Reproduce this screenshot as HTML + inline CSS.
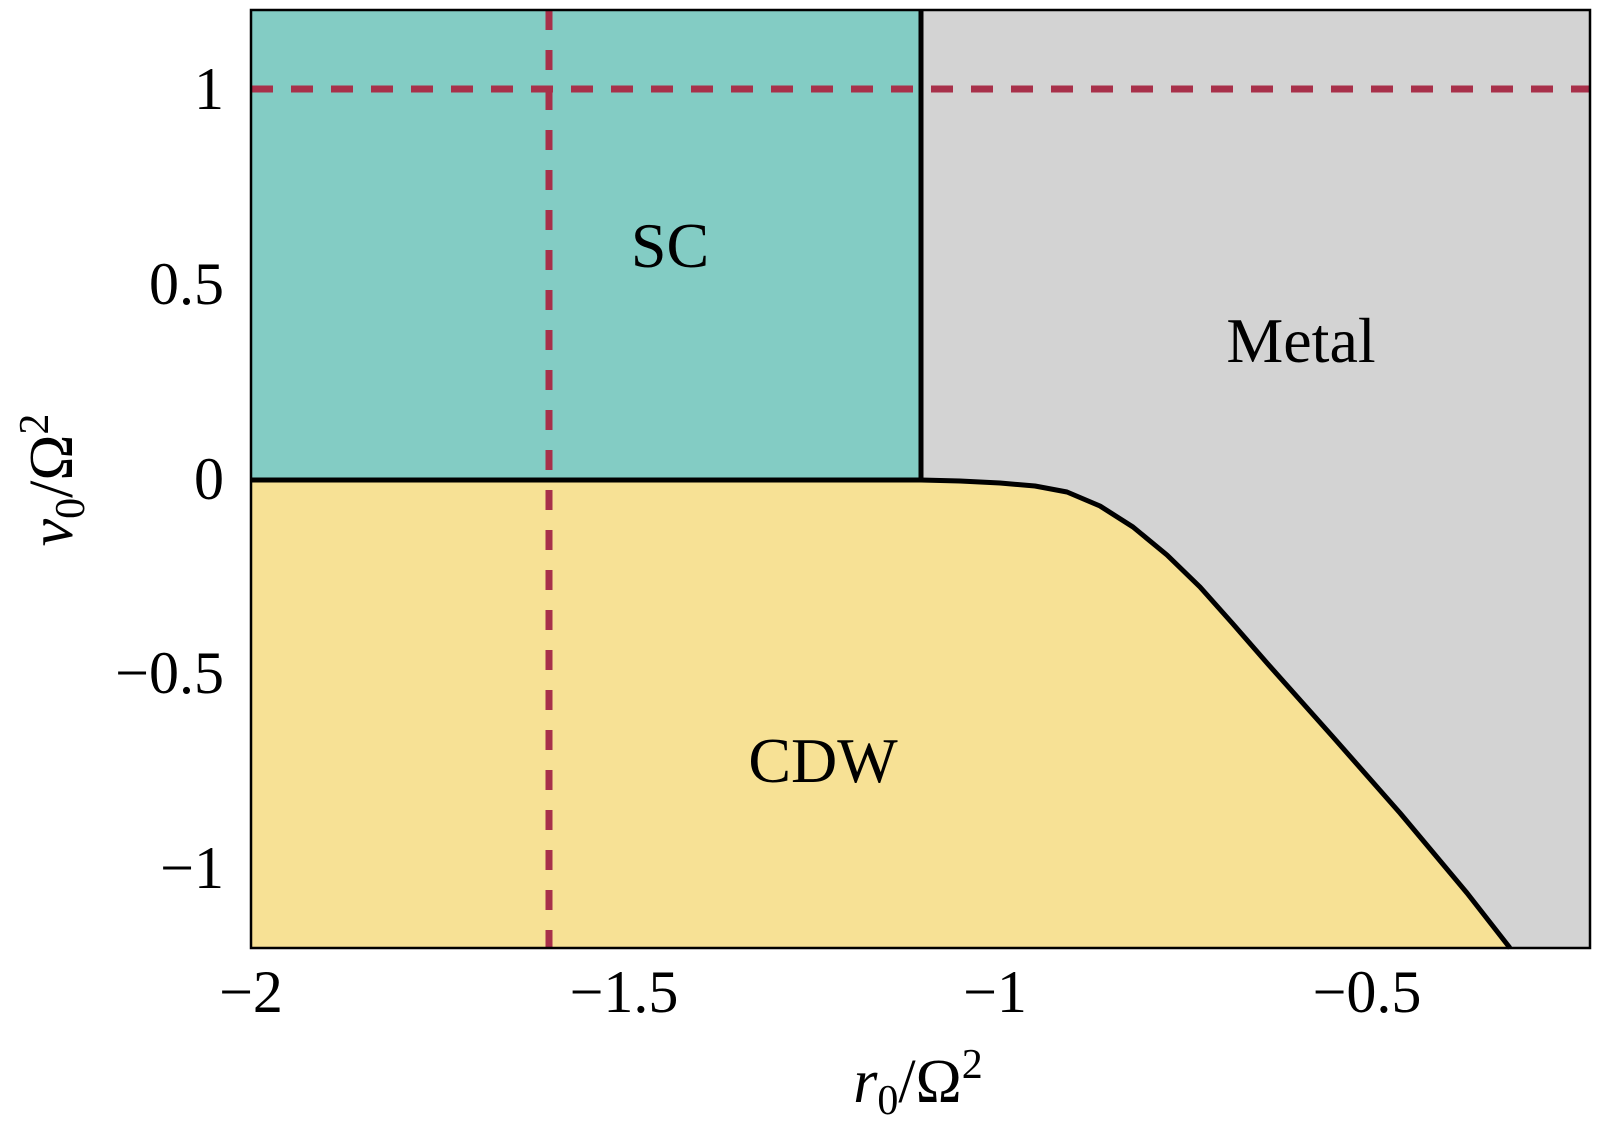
<!DOCTYPE html>
<html><head><style>
html,body{margin:0;padding:0;background:#fff;}
</style></head><body>
<svg width="1600" height="1128" viewBox="0 0 1600 1128" xmlns="http://www.w3.org/2000/svg" font-family="'Liberation Serif', serif">
<rect x="0" y="0" width="1600" height="1128" fill="#fff"/>
<rect x="251" y="10" width="1339" height="938" fill="#d3d3d3"/>
<rect x="251" y="10" width="670" height="470" fill="#83ccc4"/>
<path d="M251,480 L921,480 L960,481 L1000,483 L1035,486 L1067,492 L1100,506 L1133,527 L1167,555 L1200,587 L1233,624 L1267,663 L1333,737 L1400,813 L1467,893 L1510,948 L251,948 Z" fill="#f7e195"/>
<path d="M251,480 L921,480 L960,481 L1000,483 L1035,486 L1067,492 L1100,506 L1133,527 L1167,555 L1200,587 L1233,624 L1267,663 L1333,737 L1400,813 L1467,893 L1510,948" fill="none" stroke="#000" stroke-width="5" stroke-linejoin="round"/>
<line x1="921" y1="10" x2="921" y2="480" stroke="#000" stroke-width="5"/>
<line x1="251" y1="89" x2="1590" y2="89" stroke="#a8304a" stroke-width="7" stroke-dasharray="22,18"/>
<line x1="549" y1="10" x2="549" y2="948" stroke="#a8304a" stroke-width="7" stroke-dasharray="20,20"/>
<rect x="251" y="10" width="1339" height="938" fill="none" stroke="#000" stroke-width="2.5"/>
<text x="670" y="267" font-size="64" text-anchor="middle">SC</text>
<text x="1301" y="362" font-size="64" text-anchor="middle">Metal</text>
<text x="823" y="782" font-size="64" text-anchor="middle">CDW</text>
<g font-size="60" text-anchor="end">
<text x="224" y="109">1</text>
<text x="224" y="304">0.5</text>
<text x="224" y="499">0</text>
<text x="224" y="693">−0.5</text>
<text x="224" y="888">−1</text>
</g>
<g font-size="60" text-anchor="middle">
<text x="251" y="1012">−2</text>
<text x="624" y="1012">−1.5</text>
<text x="995" y="1012">−1</text>
<text x="1367" y="1012">−0.5</text>
</g>
<text x="918" y="1102" font-size="62" text-anchor="middle"><tspan font-style="italic">r</tspan><tspan font-size="42" dy="12">0</tspan><tspan dy="-12">/Ω</tspan><tspan font-size="42" dy="-24">2</tspan></text>
<text transform="translate(72,480) rotate(-90)" font-size="62" text-anchor="middle"><tspan font-style="italic">v</tspan><tspan font-size="42" dy="12">0</tspan><tspan dy="-12">/Ω</tspan><tspan font-size="42" dy="-24">2</tspan></text>
</svg>
</body></html>
